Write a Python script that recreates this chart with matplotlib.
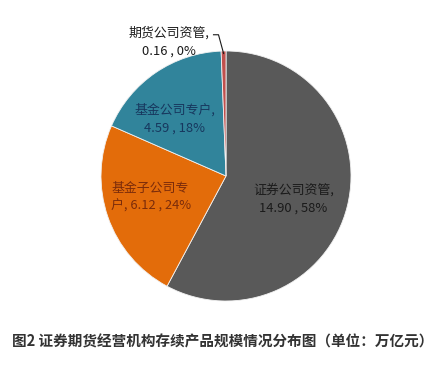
import numpy as np
import matplotlib
matplotlib.use("Agg")
import matplotlib.pyplot as plt

plt.rcParams["font.family"] = ["Noto Sans CJK SC", "DejaVu Sans"]

# Data (unit: trillion yuan)
categories = ["证券公司资管", "基金子公司专户", "基金公司专户", "期货公司资管"]
values = [14.90, 6.12, 4.59, 0.16]
percents = ["58%", "24%", "18%", "0%"]
colors = ["#595959", "#E36C0A", "#31849B", "#C0504D"]
text_colors = ["#1a1a1a", "#7B2C0B", "#17375E", "#1a1a1a"]

title = "图2 证券期货经营机构存续产品规模情况分布图（单位：万亿元）"

W, H = 445, 366
fig = plt.figure(figsize=(W / 100, H / 100), dpi=100)
fig.patch.set_facecolor("white")

# pie centre (226, 176) px, radius 125 px
cx, cy, r = 226, 176, 125
ax = fig.add_axes([(cx - r) / W, (H - cy - r) / H, 2 * r / W, 2 * r / H])

wedges, _ = ax.pie(values, colors=colors, startangle=90, counterclock=False,
                   radius=1.0, wedgeprops=dict(edgecolor="#f2f2f2", linewidth=0.6))
ax.set_xlim(-1, 1)
ax.set_ylim(-1, 1)
ax.set_aspect("equal")
ax.axis("off")

fs = 9.3
ls = 1.5
ax.text(0.54, -0.18, f"{categories[0]},\n{values[0]:.2f} , {percents[0]}",
        ha="center", va="center", fontsize=fs, color=text_colors[0], linespacing=ls)
ax.text(-0.92, -0.17, f"基金子公司专\n户, {values[1]:.2f} , {percents[1]}",
        ha="left", va="center", fontsize=fs, color=text_colors[1], linespacing=ls)
ax.text(-0.41, 0.46, f"{categories[2]},\n{values[2]:.2f} , {percents[2]}",
        ha="center", va="center", fontsize=fs, color=text_colors[2], linespacing=ls)
ax.text(-0.46, 1.07, f"{categories[3]},\n{values[3]:.2f} , {percents[3]}",
        ha="center", va="center", fontsize=fs, color=text_colors[3], linespacing=ls,
        clip_on=False)

# leader line to the small slice
w = wedges[3]
mid = np.deg2rad((w.theta1 + w.theta2) / 2)
tip = (0.98 * np.cos(mid), 0.98 * np.sin(mid))
ax.plot([-0.10, -0.06, tip[0]], [1.13, 1.13, tip[1]], color="#1a1a1a",
        linewidth=0.8, clip_on=False)

fig.text(0.5, (H - 342) / H, title, ha="center", va="center", fontsize=10.5,
         fontweight="bold", color="#333333")

fig.savefig("out.png", dpi=100, facecolor="white")
